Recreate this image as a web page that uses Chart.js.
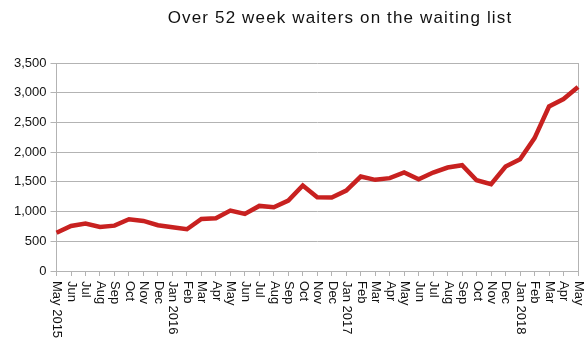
<!DOCTYPE html>
<html>
<head>
<meta charset="utf-8">
<script src="https://cdn.jsdelivr.net/npm/chart.js@4"></script>
<style>
  html, body { margin: 0; padding: 0; background: #fff; }
  #wrap { width: 588px; height: 347px; }
</style>
</head>
<body>
<div id="wrap"><canvas id="waiters"></canvas></div>
<script>
const chartTitle = "Over 52 week waiters on the waiting list";

const months = [
  "May 2015", "Jun", "Jul", "Aug", "Sep", "Oct", "Nov", "Dec",
  "Jan 2016", "Feb", "Mar", "Apr", "May", "Jun", "Jul", "Aug", "Sep", "Oct", "Nov", "Dec",
  "Jan 2017", "Feb", "Mar", "Apr", "May", "Jun", "Jul", "Aug", "Sep", "Oct", "Nov", "Dec",
  "Jan 2018", "Feb", "Mar", "Apr", "May"
];

const waiters = [
  645, 758, 797, 741, 763, 871, 843, 770,
  736, 703, 876, 888, 1016, 960, 1095, 1073, 1185, 1438, 1242, 1236,
  1354, 1590, 1534, 1562, 1657, 1545, 1657, 1741, 1781, 1528, 1461, 1758,
  1882, 2236, 2769, 2893, 3095
];

const yMax = 3500;
const yStep = 250;

const gridMajor = "#b3b3b3";
const gridMinor = "#e2e2e2";
const font = "'Liberation Sans', Arial, sans-serif";

// month labels hang under the axis, turned a quarter clockwise
const monthLabels = {
  id: "monthLabels",
  afterDraw(chart) {
    const x = chart.scales.x;
    const c = chart.ctx;
    c.save();
    c.font = "13px " + font;
    c.fillStyle = "#111";
    c.textAlign = "left";
    c.textBaseline = "middle";
    months.forEach((m, i) => {
      c.save();
      c.translate(x.getPixelForTick(i) + 0.5, x.top + 10);
      c.rotate(Math.PI / 2);
      c.fillText(m, 0, 0);
      c.restore();
    });
    c.restore();
  }
};

const titleText = {
  id: "titleText",
  afterDraw(chart) {
    const c = chart.ctx;
    c.save();
    c.font = "17px " + font;
    c.letterSpacing = "1.15px";
    c.fillStyle = "#111";
    c.textAlign = "center";
    c.textBaseline = "alphabetic";
    c.fillText(chartTitle, 340, 23);
    c.restore();
  }
};

new Chart(document.getElementById("waiters"), {
  type: "line",
  data: {
    labels: months,
    datasets: [{
      data: waiters,
      borderColor: "#c82120",
      borderWidth: 4.5,
      pointRadius: 0,
      tension: 0,
      fill: false
    }]
  },
  options: {
    responsive: true,
    maintainAspectRatio: false,
    animation: false,
    layout: { padding: { left: 10, right: 10, top: 63, bottom: 71 } },
    plugins: {
      legend: { display: false },
      title: { display: false },
      tooltip: { enabled: false }
    },
    scales: {
      x: {
        ticks: { display: false, autoSkip: false },
        grid: { drawOnChartArea: false, color: gridMajor, tickLength: 5 },
        border: { color: gridMajor }
      },
      y: {
        min: 0,
        max: yMax,
        ticks: {
          stepSize: yStep,
          padding: 4,
          color: "#111",
          font: { family: font, size: 13 },
          callback: v => v % 500 === 0 ? v.toLocaleString("en-US") : ""
        },
        grid: {
          tickLength: 6,
          color: ctx => ctx.tick && ctx.tick.value % 500 === 0 ? gridMajor : gridMinor,
          tickColor: ctx => ctx.tick && ctx.tick.value % 500 === 0 ? gridMajor : "rgba(0,0,0,0)"
        },
        border: { color: gridMajor }
      },
      y2: {
        position: "right",
        min: 0,
        max: yMax,
        ticks: { display: false },
        grid: { drawOnChartArea: false, drawTicks: false },
        border: { color: gridMajor }
      }
    }
  },
  plugins: [monthLabels, titleText]
});
</script>
</body>
</html>
